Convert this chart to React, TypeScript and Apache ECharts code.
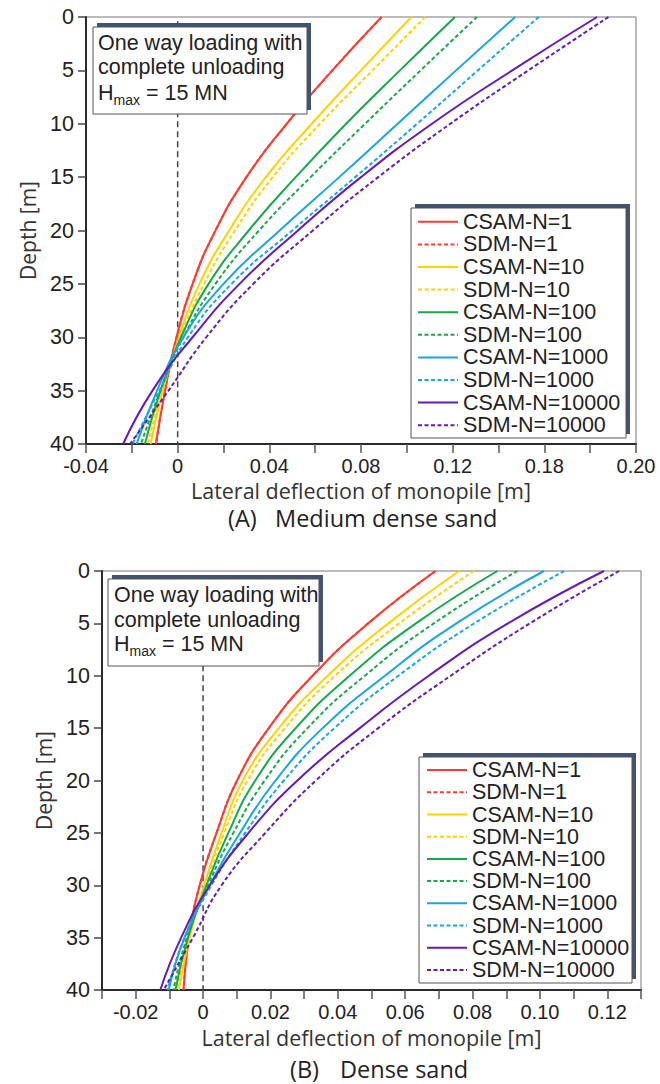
import React, { useEffect, useRef } from "react";
import * as echarts from "echarts";

// ---------- data ----------
const DEPTHS = [0, 5, 10, 15, 20, 25, 30, 35, 40];

const SERIES_NAMES = [
  "CSAM-N=1", "SDM-N=1", "CSAM-N=10", "SDM-N=10", "CSAM-N=100",
  "SDM-N=100", "CSAM-N=1000", "SDM-N=1000", "CSAM-N=10000", "SDM-N=10000",
];
const SERIES_COLORS = [
  "#ff3b2f", "#ff3b2f", "#ffd200", "#ffd200", "#17a84b",
  "#17a84b", "#19a6df", "#19a6df", "#6619b3", "#6619b3",
];
const SERIES_DASHED = [false, true, false, true, false, true, false, true, false, true];

// (A) Medium dense sand — lateral deflection [m] at DEPTHS
const A_CSAM_1 = [0.089, 0.0675, 0.0476, 0.03, 0.0165, 0.0065, -0.0005, -0.0055, -0.0095];
const A_SDM_1 = [0.089, 0.0675, 0.0476, 0.03, 0.0165, 0.0065, -0.0005, -0.0055, -0.0095];
const A_CSAM_10 = [0.102, 0.08, 0.0585, 0.0385, 0.0225, 0.0095, 0.0005, -0.0065, -0.0118];
const A_SDM_10 = [0.108, 0.085, 0.0621, 0.0415, 0.025, 0.0115, 0.0012, -0.0068, -0.013];
const A_CSAM_100 = [0.121, 0.097, 0.0735, 0.0515, 0.031, 0.0135, 0.0015, -0.0075, -0.0143];
const A_SDM_100 = [0.1306, 0.106, 0.0818, 0.058, 0.0355, 0.0165, 0.0025, -0.0075, -0.016];
const A_CSAM_1000 = [0.1473, 0.1215, 0.096, 0.0705, 0.0445, 0.02, 0.0025, -0.009, -0.0179];
const A_SDM_1000 = [0.1575, 0.131, 0.1045, 0.0775, 0.05, 0.0235, 0.0045, -0.008, -0.0197];
const A_CSAM_10000 = [0.183, 0.146, 0.111, 0.08, 0.0525, 0.027, 0.0065, -0.011, -0.0238];
const A_SDM_10000 = [0.188, 0.153, 0.119, 0.0875, 0.059, 0.033, 0.0125, -0.004, -0.0208];

// (B) Dense sand
const B_CSAM_1 = [0.069, 0.049, 0.0325, 0.0195, 0.0101, 0.004, -0.001, -0.0042, -0.0058];
const B_SDM_1 = [0.069, 0.049, 0.0325, 0.0195, 0.0101, 0.004, -0.001, -0.0042, -0.0058];
const B_CSAM_10 = [0.076, 0.055, 0.037, 0.0225, 0.0118, 0.0055, 0.0003, -0.004, -0.0072];
const B_SDM_10 = [0.0804, 0.0582, 0.0392, 0.0243, 0.0132, 0.0063, 0.0006, -0.0043, -0.0077];
const B_CSAM_100 = [0.0874, 0.0632, 0.0435, 0.0275, 0.0155, 0.0075, 0.001, -0.0045, -0.0082];
const B_SDM_100 = [0.0933, 0.0685, 0.048, 0.031, 0.0183, 0.009, 0.0015, -0.0048, -0.0088];
const B_CSAM_1000 = [0.1012, 0.0752, 0.054, 0.0355, 0.0215, 0.011, 0.002, -0.0055, -0.0102];
const B_SDM_1000 = [0.1072, 0.0805, 0.058, 0.039, 0.024, 0.0125, 0.0025, -0.0055, -0.0105];
const B_CSAM_10000 = [0.119, 0.0905, 0.067, 0.0465, 0.028, 0.0135, 0.002, -0.0065, -0.0127];
const B_SDM_10000 = [0.1235, 0.097, 0.0735, 0.052, 0.0335, 0.0185, 0.0055, -0.003, -0.0117];

const A_VALUES = [A_CSAM_1, A_SDM_1, A_CSAM_10, A_SDM_10, A_CSAM_100, A_SDM_100, A_CSAM_1000, A_SDM_1000, A_CSAM_10000, A_SDM_10000];
const B_VALUES = [B_CSAM_1, B_SDM_1, B_CSAM_10, B_SDM_10, B_CSAM_100, B_SDM_100, B_CSAM_1000, B_SDM_1000, B_CSAM_10000, B_SDM_10000];

// zero reference line (deflection 0) between these depths
const ZERO_LINE_DEPTHS = [0.4, 40];

// tick labels
const X_TICK_VALUES_A = [-0.04, 0, 0.04, 0.08, 0.12, 0.16, 0.2];
const X_TICK_LABELS_A = ["-0.04", "0", "0.04", "0.08", "0.12", "0.18", "0.20"];
const X_TICK_VALUES_B = [-0.02, 0, 0.02, 0.04, 0.06, 0.08, 0.1, 0.12];
const X_TICK_LABELS_B = ["-0.02", "0", "0.02", "0.04", "0.06", "0.08", "0.10", "0.12"];

const BOX_LINES = ["One way loading with", "complete unloading"];
const X_TITLE = "Lateral deflection of monopile [m]";
const Y_TITLE = "Depth [m]";

// ---------- styling ----------
const TICK_FONT = "'Liberation Sans', Arial, sans-serif";
const TITLE_FONT = "'Open Sans', sans-serif";
const SHADOW = "#42536f";

function tickFormatter(values: number[], labels: string[]) {
  return (v: number) => {
    for (let i = 0; i < values.length; i++) {
      if (Math.abs(values[i] - v) < 1e-9) return labels[i];
    }
    return "";
  };
}

function makeXAxis(gridIndex: number, min: number, max: number, interval: number, vals: number[], labs: string[], nameGap: number) {
  return {
    type: "value",
    gridIndex,
    min,
    max,
    interval,
    name: X_TITLE,
    nameLocation: "middle",
    nameGap,
    nameTextStyle: { fontFamily: TITLE_FONT, fontSize: 21.5, lineHeight: 20, color: "#333" },
    axisLine: { show: true, onZero: false, lineStyle: { color: "#2a2a2a", width: 2 } },
    axisTick: { show: true, inside: false, length: 9, lineStyle: { color: "#555", width: 1.5 } },
    splitLine: { show: false },
    axisLabel: {
      margin: 13,
      fontFamily: TICK_FONT,
      fontSize: 20,
      lineHeight: 18,
      color: "#222",
      formatter: tickFormatter(vals, labs),
    },
  };
}

function makeYAxis(gridIndex: number) {
  return {
    type: "value",
    gridIndex,
    inverse: true,
    min: 0,
    max: 40,
    interval: 5,
    name: Y_TITLE,
    nameLocation: "middle",
    nameGap: 48,
    nameRotate: 90,
    nameTextStyle: { fontFamily: TITLE_FONT, fontSize: 21, color: "#333" },
    axisLine: { show: true, onZero: false, lineStyle: { color: "#2a2a2a", width: 2 } },
    axisTick: { show: true, inside: false, length: 8, lineStyle: { color: "#444", width: 1.5 } },
    splitLine: { show: false },
    axisLabel: { margin: 12, fontFamily: TICK_FONT, fontSize: 21.5, color: "#222" },
  };
}

function makeSeries(values: number[][], axisIndex: number) {
  const list: any[] = values.map((vals, i) => ({
    type: "line",
    name: SERIES_NAMES[i],
    xAxisIndex: axisIndex,
    yAxisIndex: axisIndex,
    data: DEPTHS.map((d, j) => [vals[j], d]),
    symbol: "none",
    smooth: 0.5,
    z: 3,
    lineStyle: {
      color: SERIES_COLORS[i],
      width: 2,
      type: SERIES_DASHED[i] ? [4, 2.5] : "solid",
    },
    itemStyle: { color: SERIES_COLORS[i] },
  }));
  list.unshift({
    type: "line",
    name: "zero",
    xAxisIndex: axisIndex,
    yAxisIndex: axisIndex,
    data: ZERO_LINE_DEPTHS.map((d) => [0, d]),
    symbol: "none",
    z: 2,
    lineStyle: { color: "#444", width: 1.5, type: [6, 4] },
  });
  return list;
}

function boxGraphic(x: number, y: number, w: number, h: number, textX: number, lineYs: number[]) {
  return [
    { type: "rect", z: 10, shape: { x: x + 4, y: y - 4, width: w, height: h }, style: { fill: SHADOW } },
    { type: "rect", z: 11, shape: { x, y, width: w, height: h }, style: { fill: "#fff", stroke: "#555", lineWidth: 1 } },
    ...BOX_LINES.map((t, i) => ({
      type: "text",
      z: 12,
      x: textX,
      y: lineYs[i],
      style: { text: t, fontFamily: TICK_FONT, fontSize: 21.5, fill: "#222", align: "left", verticalAlign: "middle" },
    })),
    {
      type: "text",
      z: 12,
      x: textX,
      y: lineYs[2] - 11,
      style: {
        text: "{n|H}{s|max}{n| = 15 MN}",
        align: "left",
        verticalAlign: "top",
        fill: "#222",
        rich: {
          n: { fontFamily: TICK_FONT, fontSize: 21.5, lineHeight: 22, verticalAlign: "top", fill: "#222" },
          s: { fontFamily: TICK_FONT, fontSize: 14, lineHeight: 14, padding: [11, 0, 0, 0], verticalAlign: "top", fill: "#222" },
        },
      },
    },
  ];
}

function legendBox(x: number, y: number, w: number, h: number) {
  return [
    { type: "rect", z: 3, shape: { x: x + 4, y: y - 4, width: w, height: h }, style: { fill: SHADOW } },
    { type: "rect", z: 4, shape: { x, y, width: w, height: h }, style: { fill: "#fff", stroke: "#555", lineWidth: 1 } },
  ];
}

function caption(x1: number, x2: number, y: number, a: string, b: string) {
  return [
    { type: "text", z: 5, x: x1, y, style: { text: a, fontFamily: TITLE_FONT, fontSize: 23.5, fill: "#222", align: "left", verticalAlign: "middle" } },
    { type: "text", z: 5, x: x2, y, style: { text: b, fontFamily: TITLE_FONT, fontSize: 23.5, fill: "#222", align: "left", verticalAlign: "middle" } },
  ];
}

export default function App() {
  const ref = useRef<HTMLDivElement>(null);

  useEffect(() => {
    document.body.style.margin = "0";
    if (!ref.current) return;
    const chart = echarts.init(ref.current, undefined, { renderer: "svg" });

    const legendCommon = {
      orient: "vertical",
      itemWidth: 40,
      itemHeight: 14,
      itemGap: 0,
      padding: 0,
      selectedMode: false,
      z: 6,
      itemStyle: { opacity: 0 },
      data: SERIES_NAMES,
    };

    const option: any = {
      animation: false,
      backgroundColor: "#fff",
      grid: [
        { left: 86, top: 17, width: 550, height: 427, show: true, borderColor: "#777", borderWidth: 1, containLabel: false, outerBoundsMode: "none" },
        { left: 102, top: 571, width: 539, height: 419, show: true, borderColor: "#777", borderWidth: 1, containLabel: false, outerBoundsMode: "none" },
      ],
      xAxis: [
        makeXAxis(0, -0.04, 0.2, 0.02, X_TICK_VALUES_A, X_TICK_LABELS_A, 36),
        makeXAxis(1, -0.03, 0.13, 0.01, X_TICK_VALUES_B, X_TICK_LABELS_B, 37),
      ],
      yAxis: [makeYAxis(0), makeYAxis(1)],
      legend: [
        { ...legendCommon, left: 417, top: 210.5, textStyle: { fontFamily: TICK_FONT, fontSize: 21.5, color: "#222", lineHeight: 22.6 } },
        { ...legendCommon, left: 426, top: 759, textStyle: { fontFamily: TICK_FONT, fontSize: 21.5, color: "#222", lineHeight: 22.2 } },
      ],
      graphic: [
        ...boxGraphic(93, 27, 214, 87, 98, [43, 67, 93]),
        ...boxGraphic(108, 579, 211, 87, 114, [595, 620, 644]),
        ...legendBox(411, 208, 215, 230),
        ...legendBox(419, 757, 213, 226),
        ...caption(228, 275, 518, "(A)", "Medium dense sand"),
        ...caption(290, 340, 1069, "(B)", "Dense sand"),
      ],
      series: [...makeSeries(A_VALUES, 0), ...makeSeries(B_VALUES, 1)],
    };

    chart.setOption(option);
    return () => chart.dispose();
  }, []);

  return <div ref={ref} style={{ width: 660, height: 1084 }} />;
}
